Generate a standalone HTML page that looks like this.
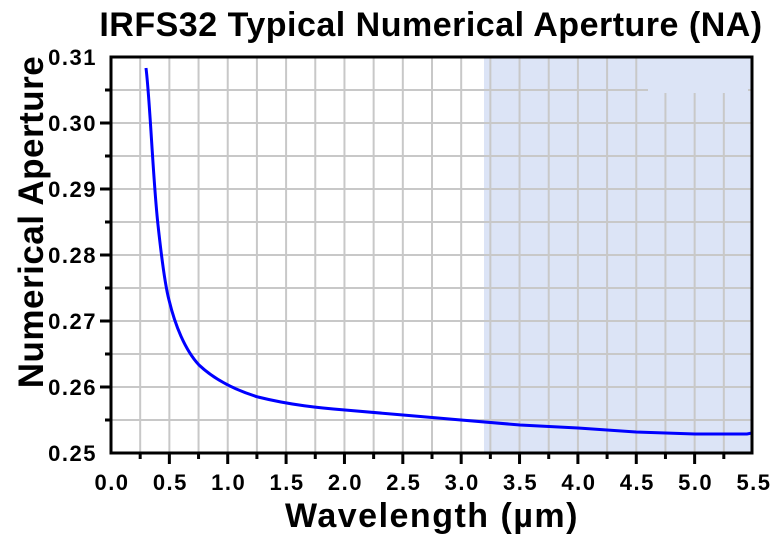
<!DOCTYPE html>
<html><head><meta charset="utf-8"><style>
body{margin:0;background:#fff;}
svg text{font-family:"Liberation Sans",Arial,sans-serif;font-weight:bold;fill:#000;}
</style></head><body>
<svg width="780" height="536" viewBox="0 0 780 536" xmlns="http://www.w3.org/2000/svg">
<rect x="0" y="0" width="780" height="536" fill="#fff"/>
<rect x="484" y="57" width="268" height="396" fill="#dce4f6"/>
<g stroke="#c8c8c8" stroke-width="2" id="grid"></g>
<rect x="648" y="59" width="100" height="34" fill="#dce4f6"/>
<path id="curve" fill="none" stroke="#0000ff" stroke-width="3"
d="M146,68 C150,100 153,180 158,225 C162,262 165,285 169,300 C175,325 185,350 199,365 C215,380 235,390 258,397 C290,405 320,408 345,410 L403,415 L461,420 L520,425 L578,428 L636,432 L695,434 L747,434 L752,433"/>
<g id="axes" stroke="#000" stroke-width="3" fill="none">
<line x1="111" y1="55.5" x2="111" y2="454.5"/>
<line x1="109.5" y1="453" x2="753.5" y2="453"/>
<line x1="109.5" y1="57" x2="753.5" y2="57"/>
<line x1="752" y1="55.5" x2="752" y2="454.5"/>
</g>
<g id="ticks" stroke="#000" stroke-width="3"></g>
<g id="labels" font-size="22" letter-spacing="1.5"></g>
<text x="431" y="36" font-size="34" text-anchor="middle" letter-spacing="0.5">IRFS32 Typical Numerical Aperture (NA)</text>
<text x="432" y="527" font-size="34" text-anchor="middle" letter-spacing="1.5">Wavelength (µm)</text>
<text transform="translate(43,222) rotate(-90)" font-size="35" text-anchor="middle" letter-spacing="0.5">Numerical Aperture</text>
<script>
var ns="http://www.w3.org/2000/svg";
function el(p,t,a,txt){var e=document.createElementNS(ns,t);for(var k in a)e.setAttribute(k,a[k]);if(txt)e.textContent=txt;document.getElementById(p).appendChild(e);}
var X=function(l){return 111+l*116.727;};
var Y=function(v){return 453-(v-0.25)*6600;};
for(var i=1;i<22;i++){var x=X(i*0.25);if(!(x>648&&x<748))el("grid","line",{x1:x,y1:57,x2:x,y2:453});else el("grid","line",{x1:x,y1:93,x2:x,y2:453});el("ticks","line",{x1:x,y1:453,x2:x,y2:i%2?459:464});}
for(var j=1;j<12;j++){var y=Y(0.25+j*0.005);el("grid","line",{x1:111,y1:y,x2:752,y2:y});el("ticks","line",{x1:111,y1:y,x2:j%2?105:100,y2:y});}
for(var i=0;i<=11;i++){el("labels","text",{x:X(i*0.5)+1,y:490,"text-anchor":"middle"},(i*0.5).toFixed(1));}
for(var j=0;j<=6;j++){el("labels","text",{x:97,y:Y(0.25+j*0.01)+8,"text-anchor":"end"},(0.25+j*0.01).toFixed(2));}
</script>
</svg>
</body></html>
